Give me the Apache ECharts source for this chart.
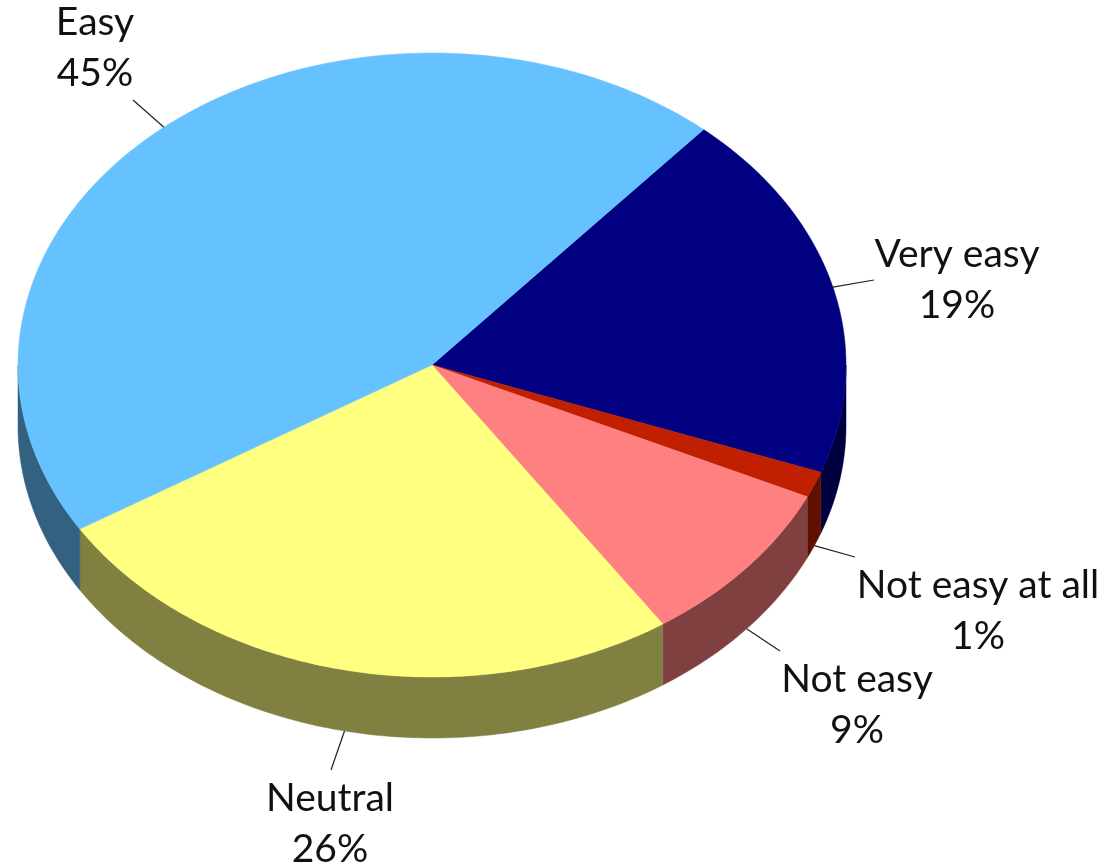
<!DOCTYPE html>
<html><head><meta charset="utf-8">
<style>html,body{margin:0;padding:0;background:#fff}#c{width:1104px;height:868px}</style>
<script src="https://cdn.jsdelivr.net/npm/echarts@6/dist/echarts.min.js"></script>
</head><body><div id="c"></div>
<script>
const categories = ['Very easy','Not easy at all','Not easy','Neutral','Easy'];
const shares = [19.2,1.35,8.65,25.6,45.2];
const topColors = ['#000080','#C02000','#FF8080','#FFFF80','#66C2FF'];
const sideColors = ['#000040','#601000','#804040','#808040','#336180'];
const startAngle = 41.0;

const pie = {cx:432, cy:365, rx:414, ry:312, depth:61};
const labelCenters = [[957,280],[978,611],[857,705],[330,824],[95,48]];
const leaderEnds = [[874,280],[855,557],[780,651],[331,770],[133,100]];

const total = shares.reduce((a,b)=>a+b,0);
function rim(deg, drop){
  const t = deg*Math.PI/180;
  return [pie.cx+pie.rx*Math.sin(t), pie.cy-pie.ry*Math.cos(t)+(drop||0)];
}
function arc(a0,a1,drop){
  const pts=[], n=Math.max(2,Math.ceil(Math.abs(a1-a0)));
  for(let i=0;i<=n;i++) pts.push(rim(a0+(a1-a0)*i/n,drop));
  return pts;
}
function renderItem(params, api){
  const i = params.dataIndex;
  let a0 = startAngle;
  for(let k=0;k<i;k++) a0 += shares[k]/total*360;
  const a1 = a0 + api.value(0)/total*360;
  const mid = (a0+a1)/2;
  const children = [];
  const s0 = Math.max(a0,90), s1 = Math.min(a1,270);
  if(s1>s0){
    children.push({type:'polygon',silent:true,
      shape:{points:arc(s0,s1,0).concat(arc(s1,s0,pie.depth))},
      style:{fill:sideColors[i],stroke:sideColors[i],lineWidth:0.5}});
  }
  children.push({type:'polygon',silent:true,z2:2,
    shape:{points:[[pie.cx,pie.cy]].concat(arc(a0,a1,0))},
    style:{fill:topColors[i],stroke:topColors[i],lineWidth:0.5}});
  const front = ((mid%360)>=90 && (mid%360)<=270);
  const st = rim(mid, front?pie.depth:0), en = leaderEnds[i];
  children.push({type:'line',silent:true,z2:3,
    shape:{x1:st[0],y1:st[1],x2:en[0],y2:en[1]},
    style:{stroke:'#222',lineWidth:1.2}});
  children.push({type:'text',silent:true,z2:4,
    style:{text:categories[i]+'\n'+Math.round(api.value(0))+'%',
      x:labelCenters[i][0],y:labelCenters[i][1],
      align:'center',verticalAlign:'middle',
      fontFamily:'Lato',fontSize:39,lineHeight:51,fill:'#111'}});
  return {type:'group',children};
}
const chart = echarts.init(document.getElementById('c'),null,{renderer:'canvas'});
chart.setOption({
  animation:false,
  backgroundColor:'#fff',
  series:[{type:'custom',coordinateSystem:'none',renderItem,
    data:shares.map((v,i)=>({name:categories[i],value:[v]}))}]
});
</script></body></html>
